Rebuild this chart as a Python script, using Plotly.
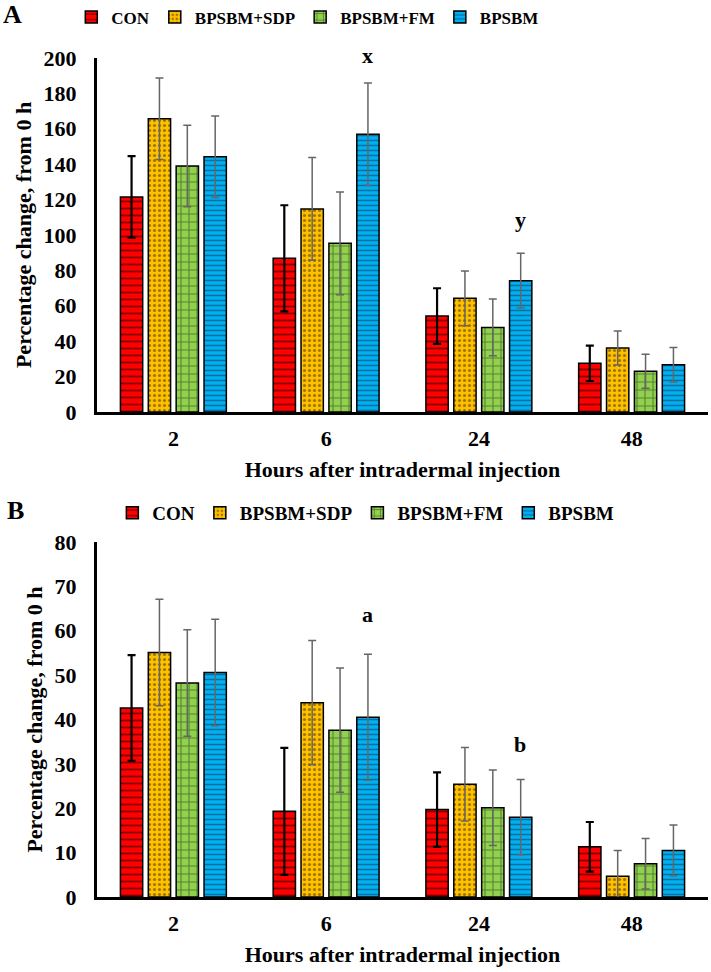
import plotly.graph_objects as go

hours = ["2", "6", "24", "48"]
groups = ["CON", "BPSBM+SDP", "BPSBM+FM", "BPSBM"]

# Panel A values and standard errors
a_con = [121.5, 86.8, 54.2, 27.5]
a_sdp = [165.7, 114.7, 64.2, 36.2]
a_fm = [139.0, 95.3, 47.8, 23.0]
a_bps = [144.2, 156.9, 74.2, 26.7]
a_con_se = [23.0, 30.0, 15.7, 10.0]
a_sdp_se = [23.0, 29.0, 15.5, 9.6]
a_fm_se = [23.0, 29.0, 16.0, 9.6]
a_bps_se = [23.0, 29.0, 15.5, 9.8]

# Panel B values and standard errors
b_con = [42.6, 19.3, 19.7, 11.3]
b_sdp = [55.1, 43.8, 25.4, 4.7]
b_fm = [48.2, 37.6, 20.1, 7.5]
b_bps = [50.6, 40.5, 18.0, 10.5]
b_con_se = [11.9, 14.3, 8.4, 5.6]
b_sdp_se = [12.0, 14.0, 8.3, 5.8]
b_fm_se = [12.0, 14.0, 8.5, 5.7]
b_bps_se = [12.0, 14.2, 8.5, 5.7]

a_tickvals = [0, 20, 40, 60, 80, 100, 120, 140, 160, 180, 200]
b_tickvals = [0, 10, 20, 30, 40, 50, 60, 70, 80]

FONT = "Liberation Serif, Times New Roman, serif"

styles = [
    dict(color="#FF0000", shape="-", fg="#000000", size=7, sol=0.25, ecol="#000000", eth=2.2),
    dict(color="#FFC000", shape=".", fg="#3a2a00", size=5, sol=0.3, ecol="#666666", eth=1.5),
    dict(color="#92D050", shape="+", fg="#1a330d", size=8, sol=0.25, ecol="#666666", eth=1.5),
    dict(color="#00B0F0", shape="-", fg="#0b2a4a", size=5, sol=0.3, ecol="#666666", eth=1.5),
]

fig = go.Figure()

panels = [
    ("x", "y", "legend", [a_con, a_sdp, a_fm, a_bps], [a_con_se, a_sdp_se, a_fm_se, a_bps_se]),
    ("x2", "y2", "legend2", [b_con, b_sdp, b_fm, b_bps], [b_con_se, b_sdp_se, b_fm_se, b_bps_se]),
]

for xa, ya, lg, vals, ses in panels:
    for name, v, se, st in zip(groups, vals, ses, styles):
        fig.add_trace(go.Bar(
            x=hours, y=v, name=name, xaxis=xa, yaxis=ya, legend=lg,
            marker=dict(
                color=st["color"],
                line=dict(color="#000000", width=1.5),
                pattern=dict(shape=st["shape"], fgcolor=st["fg"], bgcolor=st["color"],
                             size=st["size"], solidity=st["sol"], fillmode="overlay"),
            ),
            error_y=dict(type="data", array=se, symmetric=True, color=st["ecol"],
                         thickness=st["eth"], width=4),
        ))

axis_font = dict(family=FONT, size=22, color="#000000", weight="bold")

def yaxis(domain, rng, tv, anchor):
    return dict(domain=domain, range=rng, tickvals=tv, showgrid=False, zeroline=False,
                anchor=anchor,
                showline=True, linecolor="#000000", linewidth=3, ticks="",
                ticklabelstandoff=13, tickfont=axis_font,
                title=dict(text="Percentage change, from 0 h", font=axis_font, standoff=6))

def xaxis(domain, anchor):
    return dict(domain=domain, anchor=anchor, type="category", categoryorder="array",
                categoryarray=hours, range=[-0.5, 3.5], showgrid=False, zeroline=False,
                showline=True, linecolor="#000000", linewidth=3, ticks="", ticklabelstandoff=5,
                tickfont=axis_font,
                title=dict(text="Hours after intradermal injection", font=axis_font, standoff=12))

legend_common = dict(orientation="h", font=dict(family=FONT, size=17, color="#000000", weight="bold"),
                     bgcolor="rgba(0,0,0,0)", yanchor="middle", xanchor="center", itemwidth=30)

fig.update_layout(
    width=711, height=972,
    margin=dict(l=97, r=3, t=40, b=60, autoexpand=False),
    paper_bgcolor="white", plot_bgcolor="white",
    barmode="group", bargap=0.27, bargroupgap=0.2,
    font=dict(family=FONT, color="#000000"),
    xaxis=xaxis([0, 1], "y"),
    yaxis=yaxis([0.5734, 0.9794], [0, 200], a_tickvals, "x"),
    xaxis2=xaxis([0, 1], "y2"),
    yaxis2=yaxis([0.0172, 0.4243], [0, 80], b_tickvals, "x2"),
    legend=dict(legend_common, x=0.345, y=1.026),
    legend2=dict(legend_common, x=0.44, y=0.4576, font=dict(family=FONT, size=19, color="#000000", weight="bold")),
)

letter_font = dict(family=FONT, size=22, color="#000000", weight="bold")
# letters inside the axis ranges, placed in data coordinates
letters = [("x", "y", "24", 106.8, "y"), ("x2", "y2", "6", 63.1, "a"), ("x2", "y2", "24", 33.8, "b")]
for xr, yr, cat, yv, txt in letters:
    fig.add_annotation(x=hours.index(cat), y=yv, xref=xr, yref=yr, text=txt,
                       showarrow=False, xshift=41.5, yshift=3, font=letter_font)
# letter above the top of panel A's range, placed relative to the axis domain
fig.add_annotation(x=hours.index("6"), y=1.04, xref="x", yref="y domain", text="x",
                   showarrow=False, xshift=41.5, yshift=3, font=letter_font)

panel_font = dict(family=FONT, size=26, color="#000000", weight="bold")
fig.add_annotation(x=-0.139, y=1.0298, xref="paper", yref="paper", text="A", showarrow=False,
                   font=panel_font, xanchor="center", yanchor="middle")
fig.add_annotation(x=-0.1326, y=0.4599, xref="paper", yref="paper", text="B", showarrow=False,
                   font=panel_font, xanchor="center", yanchor="middle")

fig.write_html("out.html", config={"displayModeBar": False},
               post_script="document.body.style.margin='0';document.body.style.overflow='hidden';")
